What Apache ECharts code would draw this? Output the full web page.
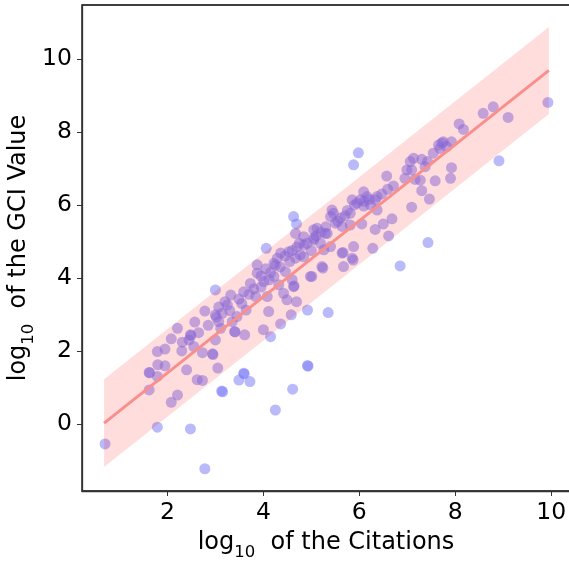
<!DOCTYPE html>
<html><head><meta charset="utf-8">
<script src="https://cdn.jsdelivr.net/npm/echarts@6/dist/echarts.min.js"></script>
<style>html,body{margin:0;padding:0;background:#fff}#c{width:569px;height:561px}</style>
</head><body><div id="c"></div>
<script>
const citations = [
0.70,1.79,2.48,2.78,3.13,3.15,3.59,3.60,3.49,3.72,4.25,4.61,4.92,4.93,4.92,5.35,3.00,4.06,4.63,4.69,5.88,5.98,6.85,7.43,8.91,9.93,
1.62,1.63,1.79,1.62,1.79,1.80,1.95,2.08,2.21,2.08,2.21,2.31,2.48,2.49,2.57,2.40,2.55,2.73,2.62,2.73,2.95,2.94,3.05,3.00,2.78,3.00,3.02,3.40,3.41,3.61,3.11,3.07,3.07,3.14,3.25,3.32,3.45,3.49,3.59,3.64,3.73,3.84,3.87,3.87,4.01,4.08,4.11,4.00,4.15,
4.22,4.29,4.22,4.32,4.42,4.49,4.46,4.60,4.69,4.63,4.64,4.58,4.36,4.53,4.67,4.77,4.91,4.98,5.05,5.22,5.29,4.67,4.84,4.36,5.24,5.01,5.19,5.40,5.05,4.84,5.12,5.33,5.26,5.05,
5.43,5.40,5.50,5.60,5.64,5.81,6.05,5.88,5.85,5.87,5.67,5.64,5.66,6.28,6.61,5.85,5.81,5.46,6.16,6.09,6.02,6.09,6.23,6.37,6.68,6.50,6.33,6.37,6.33,6.47,6.59,6.57,6.71,
7.09,6.95,6.99,7.09,7.16,7.27,7.06,7.13,7.30,7.37,7.42,7.30,7.46,7.58,7.90,7.92,7.54,7.65,7.68,7.75,7.72,7.82,7.92,8.08,8.17,8.58,8.79,9.10,
3.95,4.05,4.15,4.12,3.80,3.70,3.95,4.25,4.35,4.55,4.45,4.60,4.70,4.85,5.00,5.10,5.20,4.75,5.70,5.75,5.95,6.10,6.20,5.90,5.55,5.30,3.30,3.20,3.55,2.85,2.65,3.35,2.45,2.30,1.95
];
const gci = [
-0.55,-0.09,-0.14,-1.23,0.90,0.88,1.39,1.37,1.20,1.16,0.38,0.95,1.60,1.58,3.12,3.05,3.67,4.81,5.68,5.48,7.10,7.43,4.33,4.97,7.21,8.81,
1.41,1.40,1.30,0.93,1.98,1.62,1.59,0.59,0.79,2.33,2.62,2.24,2.44,2.42,2.79,1.48,2.12,1.95,1.21,1.19,1.90,1.92,1.53,2.30,3.09,2.99,2.92,2.53,2.52,2.44,2.62,2.80,3.20,3.03,3.26,3.53,2.94,3.42,3.62,3.12,3.85,3.49,4.13,4.36,3.90,3.49,3.08,2.58,2.39,
4.40,4.54,4.04,3.81,3.58,3.40,4.17,3.95,3.35,3.76,3.78,2.99,2.74,4.72,4.54,4.63,4.95,4.04,5.04,4.31,5.22,5.22,5.13,4.68,4.27,4.04,4.95,4.86,5.09,4.58,5.36,5.22,4.77,5.32,
5.86,5.68,5.50,5.64,5.41,5.45,5.48,4.86,4.54,4.49,4.31,4.68,4.70,4.81,5.15,6.14,5.77,5.77,6.23,6.36,6.14,5.97,6.00,5.86,5.62,5.48,5.33,6.23,6.14,6.30,6.43,6.79,6.52,
5.94,6.73,6.96,6.96,6.70,6.68,7.19,7.28,7.25,7.05,7.19,6.39,6.16,6.66,6.73,7.02,7.42,7.64,7.55,7.73,7.70,7.60,7.73,8.22,8.07,8.51,8.69,8.40,
4.05,4.25,4.15,3.95,3.70,3.55,3.75,4.35,4.30,4.45,4.60,4.75,4.85,4.90,4.75,5.15,5.25,4.95,5.70,5.85,6.05,6.10,6.15,6.00,5.55,5.40,3.10,3.35,3.30,2.70,2.50,2.80,2.30,2.00,2.05
];
const xTicks = [2, 4, 6, 8, 10];
const yTicks = [0, 2, 4, 6, 8, 10];
const fitX = [0.68, 9.95];
const fitY = [0.02, 9.69];
const bandLo = [-1.18, 8.49];
const bandHi = [1.22, 10.88];

const points = citations.map((x, i) => [x, gci[i]]);
const FONT = 'DejaVu Sans';
const FS = 23.5;
const NFS = 24;
const nameRich = {
  a: {fontFamily: FONT, fontSize: NFS, lineHeight: 30, verticalAlign: 'top', color: '#000', padding: 0},
  s: {fontFamily: FONT, fontSize: 16.5, lineHeight: 16, verticalAlign: 'bottom', color: '#000', padding: 0}
};
const chart = echarts.init(document.getElementById('c'), null, {renderer: 'canvas'});
const axisCommon = {
  type: 'value',
  splitLine: {show: false},
  nameMoveOverlap: false,
  axisLine: {show: true, onZero: false, lineStyle: {color: '#333', width: 1.3}},
  axisTick: {show: true, length: 5, inside: false, lineStyle: {color: '#333', width: 1}},
  axisLabel: {color: '#000', fontFamily: FONT, fontSize: FS},
  nameTextStyle: {color: '#000', fontFamily: FONT, fontSize: NFS, rich: nameRich}
};
chart.setOption({
  animation: false,
  backgroundColor: '#fff',
  grid: {left: 82, top: 5, width: 488, height: 486, show: true, borderColor: '#000', borderWidth: 1.3,
         containLabel: false, outerBoundsMode: 'none'},
  xAxis: Object.assign({}, axisCommon, {
    min: 0.22, max: 10.39,
    axisTick: Object.assign({}, axisCommon.axisTick, {customValues: xTicks}),
    axisLabel: Object.assign({}, axisCommon.axisLabel, {customValues: xTicks, margin: 10}),
    name: '{a|log}{s|10}{a|  of the Citations}', nameLocation: 'middle', nameGap: 40
  }),
  yAxis: Object.assign({}, axisCommon, {
    min: -1.84, max: 11.48,
    axisTick: Object.assign({}, axisCommon.axisTick, {customValues: yTicks}),
    axisLabel: Object.assign({}, axisCommon.axisLabel, {customValues: yTicks, margin: 10}),
    name: '{a|log}{s|10}{a|  of the GCI Value}', nameLocation: 'middle', nameGap: 45, nameRotate: 90
  }),
  series: [
    {
      type: 'scatter', data: points, symbolSize: 11, z: 1,
      itemStyle: {color: 'rgb(117,117,245)', opacity: 0.5, borderWidth: 0}
    },
    {
      type: 'custom', z: 2, data: [0],
      renderItem: function (params, api) {
        const pts = [];
        for (let i = 0; i < fitX.length; i++) pts.push(api.coord([fitX[i], bandHi[i]]));
        for (let i = fitX.length - 1; i >= 0; i--) pts.push(api.coord([fitX[i], bandLo[i]]));
        return {type: 'polygon', shape: {points: pts}, style: {fill: 'rgba(255,0,0,0.135)'}};
      }
    },
    {
      type: 'line', z: 3, data: fitX.map((x, i) => [x, fitY[i]]), showSymbol: false,
      lineStyle: {color: '#f98f8c', width: 3}
    }
  ]
});
</script></body></html>
